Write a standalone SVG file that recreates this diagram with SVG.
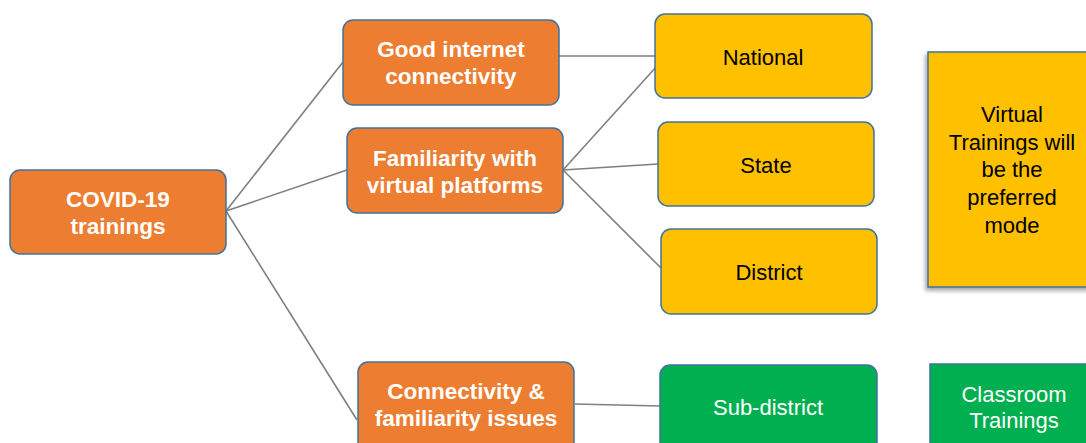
<svg xmlns="http://www.w3.org/2000/svg" width="1086" height="443" viewBox="0 0 1086 443">
<defs>
<filter id="sh" x="-20%" y="-20%" width="140%" height="140%">
<feDropShadow dx="-2" dy="3" stdDeviation="2" flood-color="#000" flood-opacity="0.35"/>
</filter>
</defs>
<style>
.o{fill:#ED7D31;stroke:#41719C;stroke-width:1.5}
.y{fill:#FFC000;stroke:#41719C;stroke-width:1.5}
.g{fill:#00B050;stroke:#41719C;stroke-width:1.5}
.tb{font-family:"Liberation Sans",Arial,sans-serif;font-weight:bold;font-size:22.5px;fill:#fff;text-anchor:middle}
.tk{font-family:"Liberation Sans",Arial,sans-serif;font-size:22px;fill:#000;text-anchor:middle}
.tw{font-family:"Liberation Sans",Arial,sans-serif;font-size:22px;fill:#fff;text-anchor:middle}
.c line{stroke:#7F7F7F;stroke-width:1.6}
</style>
<g class="c" id="connectors">
<line x1="226" y1="211" x2="343" y2="62"/>
<line x1="226" y1="211" x2="347" y2="170"/>
<line x1="226" y1="211" x2="357" y2="420"/>
<line x1="559" y1="56" x2="655" y2="56"/>
<line x1="563" y1="170" x2="657" y2="66"/>
<line x1="563" y1="170" x2="658" y2="164"/>
<line x1="563" y1="170" x2="661" y2="268"/>
<line x1="575" y1="404" x2="660" y2="406"/>
</g>
<g id="covid"><rect class="o" x="10" y="170" width="216" height="84" rx="10"/>
<text class="tb" x="118" y="207">COVID-19</text><text class="tb" x="118" y="234">trainings</text></g>
<g id="good"><rect class="o" x="343" y="20" width="216" height="85" rx="10"/>
<text class="tb" x="451" y="57">Good internet</text><text class="tb" x="451" y="84">connectivity</text></g>
<g id="familiar"><rect class="o" x="347" y="128" width="216" height="85" rx="10"/>
<text class="tb" x="455" y="166">Familiarity with</text><text class="tb" x="455" y="193">virtual platforms</text></g>
<g id="issues"><rect class="o" x="358" y="362" width="216" height="90" rx="10"/>
<text class="tb" x="466" y="399">Connectivity &amp;</text><text class="tb" x="466" y="426">familiarity issues</text></g>
<g id="national"><rect class="y" x="655" y="14" width="217" height="84" rx="10"/>
<text class="tk" x="763" y="65">National</text></g>
<g id="state"><rect class="y" x="658" y="122" width="216" height="84" rx="10"/>
<text class="tk" x="766" y="173">State</text></g>
<g id="district"><rect class="y" x="661" y="229" width="216" height="85" rx="10"/>
<text class="tk" x="769" y="280">District</text></g>
<g id="subdistrict"><rect class="g" x="660" y="365" width="217" height="90" rx="10"/>
<text class="tw" x="768" y="415">Sub-district</text></g>
<g id="virtual"><rect class="y" x="928" y="52" width="170" height="235" filter="url(#sh)"/>
<text class="tk" x="1012" y="122">Virtual</text>
<text class="tk" x="1012" y="150">Trainings will</text>
<text class="tk" x="1012" y="177">be the</text>
<text class="tk" x="1012" y="205">preferred</text>
<text class="tk" x="1012" y="233">mode</text></g>
<g id="classroom"><rect class="g" x="930" y="364" width="170" height="90"/>
<text class="tw" x="1014" y="402">Classroom</text><text class="tw" x="1014" y="428">Trainings</text></g>
</svg>
